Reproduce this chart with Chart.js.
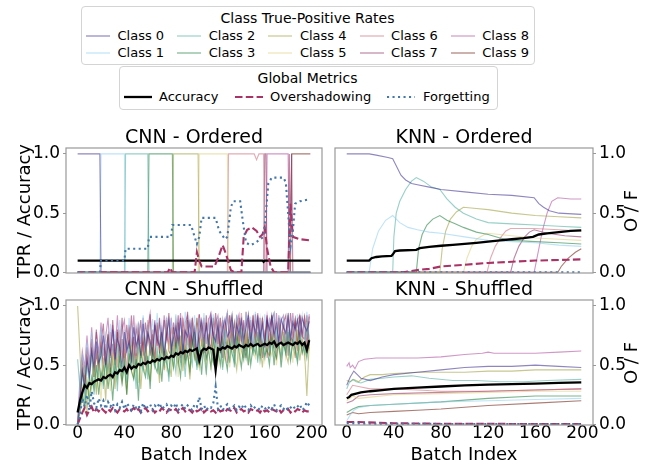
<!DOCTYPE html>
<html><head><meta charset="utf-8">
<script src="https://cdn.jsdelivr.net/npm/chart.js@4/dist/chart.umd.min.js"></script>
<style>
body{margin:0;width:654px;height:464px;overflow:hidden;background:#fff;font-family:"DejaVu Sans",sans-serif;position:relative}
canvas{position:absolute;left:0;top:0}
.t{position:absolute;white-space:nowrap;color:#000;line-height:1.17}
.c{transform:translate(-50%,-50%)}
.r{transform:translate(-50%,-50%) rotate(-90deg)}
.box{position:absolute;border:1px solid #d4d4d4;border-radius:4px;background:#fff}
svg{position:absolute;overflow:visible}
</style></head><body>
<div class="box" style="left:81px;top:6px;width:452px;height:57px"></div>
<div class="box" style="left:119px;top:66px;width:377px;height:42px"></div>
<div id="leg"></div>
<canvas id="c1" width="654" height="464"></canvas>
<canvas id="c2" width="654" height="464"></canvas>
<canvas id="c3" width="654" height="464"></canvas>
<canvas id="c4" width="654" height="464"></canvas>
<div id="labels"></div>
<script>
// ---------- labels / categories ----------
const classNames = ['Class 0','Class 1','Class 2','Class 3','Class 4','Class 5','Class 6','Class 7','Class 8','Class 9'];
const classColors = ['#332288','#88CCEE','#44AA99','#117733','#999933','#DDCC77','#CC6677','#882255','#AA4499','#661100'];
const metricNames = ['Accuracy','Overshadowing','Forgetting'];
const panelTitles = ['CNN - Ordered','KNN - Ordered','CNN - Shuffled','KNN - Shuffled'];
const xTicks = [0,40,80,120,160,200];
const yTicks = [0,0.5,1.0];

// ---------- CNN - Ordered (batch, value) ----------
const cnnOrdC0 = [[0,1],[19,1],[20,0],[199,0]];
const cnnOrdC1 = [[0,0],[19,0],[20,1],[40,1],[41,0],[199,0]];
const cnnOrdC2 = [[0,0],[40,0],[41,1],[60,1],[61,0],[199,0]];
const cnnOrdC3 = [[0,0],[60,0],[61,1],[81,1],[82,0],[199,0]];
const cnnOrdC4 = [[0,0],[81,0],[82,1],[103,1],[104,0],[199,0]];
const cnnOrdC5 = [[0,0],[103,0],[104,1],[128,1],[129,0],[199,0]];
const cnnOrdC6 = [[0,0],[128,0],[129,1],[151,1],[153,0.95],[155,1],[159,1],[160,0],[199,0]];
const cnnOrdC7 = [[0,0],[159,0],[160,1],[161,1],[162,0],[180,0],[181,1],[182,0.3],[183,1],[184,0],[199,0]];
const cnnOrdC8 = [[0,0],[161,0],[162,1],[180,1],[181,0],[199,0]];
const cnnOrdC9 = [[0,0],[182,0],[183,1],[199,1]];
const cnnOrdAcc = [[0,0.1],[158,0.1],[159,0.09],[160,0.1],[199,0.1]];
const cnnOrdOvs = [[0,0],[77,0],[79,0.04],[81,0],[100,0],[102,0.17],[104,0.1],[106,0.05],[117,0.05],[120,0.12],[124,0.23],[127,0.15],[131,0.02],[134,0],[140,0],[142,0.3],[145,0.36],[149,0.38],[153,0.35],[156,0.3],[158,0.32],[160,0.38],[162,0.2],[165,0.05],[168,0],[180,0],[182,0.58],[184,0.3],[190,0.28],[199,0.27]];
const cnnOrdFgt = [[0,0],[19,0],[20,0.1],[40,0.1],[41,0.2],[60,0.2],[61,0.3],[80,0.3],[81,0.4],[97,0.4],[100,0.3],[102,0.24],[104,0.3],[106,0.46],[118,0.46],[121,0.35],[126,0.28],[128,0.3],[131,0.55],[133,0.6],[139,0.6],[141,0.45],[144,0.25],[148,0.23],[152,0.25],[156,0.28],[159,0.3],[161,0.5],[163,0.75],[166,0.8],[176,0.8],[178,0.76],[180,0.5],[182,0.22],[184,0.35],[186,0.58],[190,0.6],[199,0.62]];

// ---------- KNN - Ordered ----------
const knnOrdC0 = [[0,1],[19,1],[25,0.99],[35,0.97],[39,0.96],[42,0.9],[46,0.82],[50,0.78],[55,0.75],[60,0.74],[70,0.72],[80,0.7],[100,0.68],[120,0.66],[140,0.65],[159,0.63],[163,0.58],[167,0.55],[172,0.52],[180,0.5],[199,0.49]];
const knnOrdC1 = [[0,0],[19,0],[22,0.2],[27,0.35],[33,0.44],[39,0.48],[45,0.42],[52,0.38],[60,0.36],[70,0.34],[80,0.33],[100,0.3],[120,0.27],[140,0.26],[160,0.25],[180,0.23],[199,0.22]];
const knnOrdC2 = [[0,0],[39,0],[40,0.3],[42,0.5],[45,0.6],[50,0.7],[55,0.77],[59,0.8],[65,0.77],[72,0.72],[79,0.7],[85,0.62],[92,0.55],[99,0.5],[110,0.45],[120,0.42],[140,0.41],[160,0.4],[180,0.39],[199,0.38]];
const knnOrdC3 = [[0,0],[59,0],[61,0.2],[64,0.32],[68,0.4],[73,0.45],[79,0.48],[85,0.44],[92,0.41],[99,0.38],[110,0.34],[120,0.32],[130,0.29],[140,0.27],[160,0.26],[180,0.25],[199,0.24]];
const knnOrdC4 = [[0,0],[79,0],[81,0.2],[84,0.35],[88,0.45],[93,0.51],[99,0.55],[110,0.54],[120,0.53],[140,0.5],[160,0.48],[180,0.47],[199,0.46]];
const knnOrdC5 = [[0,0],[99,0],[102,0.12],[106,0.22],[110,0.28],[115,0.31],[119,0.33],[130,0.32],[140,0.31],[160,0.29],[180,0.28],[199,0.27]];
const knnOrdC6 = [[0,0],[119,0],[122,0.12],[126,0.22],[131,0.3],[135,0.35],[139,0.37],[159,0.37],[180,0.36],[199,0.35]];
const knnOrdC7 = [[0,0],[139,0],[142,0.12],[146,0.22],[151,0.3],[155,0.34],[159,0.36],[170,0.33],[185,0.31],[199,0.3]];
const knnOrdC8 = [[0,0],[159,0],[162,0.15],[166,0.35],[170,0.5],[174,0.6],[179,0.63],[190,0.62],[199,0.62]];
const knnOrdC9 = [[0,0],[179,0],[182,0.05],[188,0.12],[194,0.17],[199,0.2]];
const knnOrdAcc = [[0,0.1],[19,0.1],[21,0.12],[25,0.13],[30,0.135],[38,0.14],[39,0.15],[41,0.18],[45,0.185],[59,0.19],[62,0.205],[70,0.215],[80,0.225],[90,0.232],[100,0.24],[110,0.25],[120,0.26],[130,0.27],[140,0.28],[150,0.29],[158,0.3],[163,0.32],[170,0.33],[180,0.34],[190,0.35],[199,0.355]];
const knnOrdOvs = [[0,0],[40,0],[50,0.005],[60,0.02],[70,0.03],[80,0.05],[100,0.065],[120,0.08],[140,0.09],[160,0.1],[180,0.105],[199,0.11]];
const knnOrdFgt = [[0,0],[199,0]];

// ---------- CNN - Shuffled (every 2nd batch, values in %) ----------
const cnnShufBatches = Array.from({length:100},(_, i)=>i*2);
const cnnShufC0 = [0,20,45,30,55,40,62,48,70,52,58,75,50,68,60,80,55,72,65,48, 78,62,70,55,82,66,74,58,85,63,77,70,60,84,72,66,80,58,76,88, 64,73,82,69,90,61,79,74,86,68,81,59,77,88,72,83,66,91,75,70, 85,63,80,89,74,78,92,67,84,76,88,71,82,93,69,86,78,90,73,84, 65,88,80,92,75,85,70,89,82,77,91,72,86,80,88,74,90,83,79,87];
const cnnShufC1 = [0,35,60,42,70,45,78,50,72,54,82,58,75,52,85,60,79,56,88,62, 80,58,90,66,84,60,87,69,92,62,83,71,89,64,94,70,86,62,91,74, 88,66,93,72,86,64,95,70,89,74,92,66,90,72,94,68,87,75,93,66, 91,73,88,66,95,74,90,68,93,76,89,70,94,72,91,67,95,74,90,70, 93,71,89,76,95,68,92,74,90,70,94,72,91,68,93,76,92,70,95,74];
const cnnShufC2 = [55,30,45,20,50,35,60,25,48,40,65,30,55,45,62,38,58,28,66,42, 55,35,68,48,60,30,70,52,45,64,38,72,55,48,66,42,74,50,60,36, 70,58,44,75,52,66,40,72,60,50,78,46,68,56,74,42,70,62,52,76, 58,68,46,80,62,54,74,48,70,64,82,56,66,50,78,60,72,52,80,64, 56,76,62,70,50,82,66,58,74,60,80,54,72,64,56,78,68,60,82,66];
const cnnShufC3 = [0,10,25,15,35,20,40,30,50,25,45,35,55,30,48,20,52,40,58,35, 50,25,60,45,38,55,20,62,48,40,58,30,65,50,44,60,36,66,52,42, 62,48,70,55,40,68,52,60,45,72,58,50,66,42,70,56,62,48,74,54, 64,50,72,58,46,70,60,52,76,62,48,68,56,74,50,66,60,78,54,70, 58,64,50,76,62,56,72,48,68,60,78,54,70,64,52,74,60,68,56,72];
const cnnShufC4 = [100,60,20,50,10,40,30,55,25,60,35,50,20,65,40,55,30,68,45,35, 60,25,55,70,40,50,65,30,58,72,45,38,68,52,60,35,70,48,62,55, 40,72,58,50,75,45,66,60,38,78,55,62,48,70,58,44,76,60,52,68, 56,74,48,64,70,52,78,58,46,72,62,54,80,50,68,60,74,56,66,48, 72,62,58,76,50,70,64,56,78,60,52,74,66,58,80,54,70,62,24,68];
const cnnShufC5 = [0,15,30,10,40,25,35,50,30,45,20,55,38,48,28,60,42,35,58,40, 52,30,62,45,40,58,35,66,50,44,60,38,68,48,56,42,64,52,46,70, 55,48,66,40,72,58,50,62,44,70,56,64,48,74,60,52,68,46,72,58, 50,70,62,54,76,48,66,60,72,52,64,58,78,50,70,62,56,74,60,66, 54,72,64,58,76,50,68,62,74,56,66,70,52,78,60,64,72,56,70,62];
const cnnShufC6 = [0,25,50,35,60,45,70,40,65,48,75,50,68,42,78,55,72,48,80,56, 70,46,82,54,74,50,85,58,66,48,88,60,80,52,84,62,70,46,90,64, 82,58,86,66,52,90,68,84,55,88,70,50,92,66,86,54,90,72,58,88, 64,90,70,86,52,92,72,60,88,66,94,74,56,90,64,86,72,92,58,88, 74,56,90,72,88,54,92,70,86,60,94,72,88,56,90,74,62,92,76,64];
const cnnShufC7 = [0,30,55,40,65,45,72,50,80,52,70,85,48,76,58,88,54,80,62,90, 56,84,64,92,50,82,68,88,58,86,70,93,52,84,66,90,60,88,72,94, 60,86,70,92,56,88,74,95,58,90,72,54,93,76,60,92,66,88,74,94, 68,90,56,82,94,66,88,60,92,70,90,56,95,68,88,62,93,70,90,56, 72,92,58,88,94,64,90,70,86,92,58,94,74,88,62,92,76,90,60,91];
const cnnShufC8 = [0,40,62,48,75,50,82,54,78,60,86,58,74,90,56,84,62,92,58,80, 88,60,84,66,92,58,86,68,90,64,82,94,62,88,70,86,66,92,74,68, 90,66,88,72,94,62,86,92,70,88,74,60,93,72,90,68,88,94,70,86, 92,72,88,64,94,74,90,66,86,93,70,88,62,92,76,90,68,94,74,88, 70,92,76,90,64,94,68,88,92,72,90,66,94,70,88,92,74,90,66,93];
const cnnShufC9 = [0,20,45,35,55,42,65,40,60,45,70,48,62,75,44,68,50,78,52,72, 48,70,80,52,74,50,82,56,72,50,84,58,76,54,86,60,78,52,88,62, 58,82,64,86,60,80,54,88,66,82,62,90,68,84,60,86,70,64,90,68, 84,60,88,70,66,92,72,86,64,90,70,84,62,88,68,92,72,86,66,90, 70,88,64,92,74,68,90,72,86,66,92,74,70,88,68,90,74,72,92,70];
const cnnShufAcc = [10,20,27,33,31,35,34,36,37,38,37,40,39,41,42,40,44,43,46,45, 48,44,50,47,49,48,51,50,52,51,53,52,54,53,55,54,56,55,57,56, 58,57,60,59,61,60,62,61,63,62,63,64,54,62,64,63,65,64,63,46, 64,63,65,64,66,65,64,66,65,67,66,65,67,66,68,66,67,68,66,67, 68,67,69,68,70,66,68,69,67,68,69,68,67,69,68,70,67,69,63,71];
const cnnShufOvs = [0,5,10,14,8,12,15,10,13,11,14,12,10,13,11,14,12,10,13,12, 11,13,10,12,14,11,13,10,12,14,11,12,13,10,12,11,14,12,10,13, 12,11,13,10,12,14,11,13,12,10,13,11,12,14,10,12,13,11,12,10, 13,11,12,10,13,12,11,14,10,12,13,11,12,10,13,12,11,12,10,13, 11,12,10,13,12,11,13,10,12,11,13,10,12,11,13,12,10,12,11,11];
const cnnShufFgt = [0,8,22,15,25,12,28,18,14,22,16,20,13,19,15,18,12,17,14,19, 13,18,15,12,17,14,16,11,18,13,15,17,12,16,14,18,13,15,17,12, 16,14,18,12,15,17,13,16,14,12,17,15,23,13,16,12,15,14,18,32, 13,16,12,15,17,13,14,16,12,15,13,17,14,12,16,13,15,14,12,16, 14,12,15,13,17,12,14,16,13,15,12,14,16,13,15,17,12,14,19,16];

// ---------- KNN - Shuffled ----------
const knnShufC0 = [[0,0.33],[3,0.4],[6,0.45],[9,0.42],[12,0.39],[16,0.38],[20,0.37],[30,0.4],[40,0.42],[60,0.44],[80,0.46],[100,0.48],[120,0.49],[140,0.49],[160,0.5],[180,0.49],[199,0.48]];
const knnShufC1 = [[0,0.03],[3,0.08],[6,0.12],[10,0.14],[20,0.16],[40,0.17],[80,0.19],[120,0.2],[160,0.21],[199,0.22]];
const knnShufC2 = [[0,0.3],[2,0.35],[5,0.38],[8,0.36],[12,0.35],[20,0.38],[30,0.39],[40,0.4],[55,0.41],[70,0.39],[90,0.37],[110,0.37],[130,0.36],[150,0.36],[170,0.37],[199,0.38]];
const knnShufC3 = [[0,0.1],[5,0.13],[10,0.15],[20,0.16],[40,0.17],[80,0.19],[120,0.22],[160,0.24],[199,0.24]];
const knnShufC4 = [[0,0.37],[3,0.36],[6,0.38],[10,0.36],[15,0.4],[20,0.42],[30,0.42],[40,0.43],[60,0.44],[80,0.44],[100,0.44],[120,0.45],[140,0.45],[160,0.46],[199,0.46]];
const knnShufC5 = [[0,0.2],[5,0.24],[10,0.22],[20,0.23],[40,0.25],[80,0.26],[120,0.27],[160,0.28],[199,0.28]];
const knnShufC6 = [[0,0.25],[5,0.33],[10,0.32],[20,0.3],[40,0.3],[60,0.29],[80,0.28],[100,0.28],[120,0.28],[160,0.29],[199,0.3]];
const knnShufC7 = [[0,0.18],[5,0.2],[10,0.24],[20,0.25],[40,0.26],[80,0.27],[120,0.28],[160,0.29],[199,0.3]];
const knnShufC8 = [[0,0.49],[2,0.52],[3,0.48],[5,0.5],[7,0.47],[10,0.53],[15,0.55],[25,0.56],[40,0.56],[60,0.56],[80,0.57],[100,0.59],[115,0.6],[120,0.61],[125,0.6],[160,0.6],[180,0.61],[199,0.62]];
const knnShufC9 = [[0,0.08],[5,0.1],[10,0.09],[20,0.1],[40,0.11],[60,0.12],[80,0.13],[120,0.16],[160,0.18],[199,0.2]];
const knnShufAcc = [[0,0.22],[2,0.23],[4,0.25],[8,0.26],[12,0.27],[20,0.28],[30,0.29],[40,0.3],[60,0.31],[80,0.32],[100,0.33],[120,0.335],[140,0.34],[160,0.345],[180,0.35],[199,0.355]];
const knnShufOvs = [[0,0.02],[10,0.02],[40,0.01],[80,0.005],[199,0.003]];
const knnShufFgt = [[0,0.01],[20,0.005],[199,0.002]];

// ---------- styling ----------
const OVS_COLOR = '#AA3366';
const FGT_COLOR = '#4477AA';
const CLASS_ALPHA = 0.55;
const X_MIN = -9.95, X_MAX = 208.95, Y_MIN = -0.005, Y_MAX = 1.05;
Chart.defaults.font.family = "'DejaVu Sans', sans-serif";
Chart.defaults.color = '#000';

function rgba(hex,a){const n=parseInt(hex.slice(1),16);return `rgba(${n>>16},${(n>>8)&255},${n&255},${a})`;}
const pairs = p => p.map(([x,y])=>({x,y}));
const pct = arr => arr.map((v,i)=>({x:cnnShufBatches[i], y:v/100}));

const framePlugin = {id:'frame', afterDraw(c){const a=c.chartArea, ctx=c.ctx; ctx.save(); ctx.strokeStyle='#999'; ctx.lineWidth=1.2; ctx.strokeRect(a.left, a.top, a.right-a.left, a.bottom-a.top); ctx.restore();}};

function panel(id, f, side, bottomRow, classes, acc, ovs, fgt){
  const YW = 40, XH = bottomRow ? 30 : 0;
  const datasets = classes.map((d,i)=>({label:classNames[i], data:d, borderColor:rgba(classColors[i],CLASS_ALPHA), borderWidth:1.1, order:10}));
  datasets.push({label:metricNames[0], data:acc, borderColor:'#000', borderWidth:2.3, order:2});
  datasets.push({label:metricNames[1], data:ovs, borderColor:OVS_COLOR, borderWidth:2.1, borderDash:[7.5,3.3], order:1});
  datasets.push({label:metricNames[2], data:fgt, borderColor:FGT_COLOR, borderWidth:2.1, borderDash:[2.1,3.4], order:0});
  new Chart(document.getElementById(id), {
    type:'line',
    data:{datasets},
    options:{
      responsive:false, animation:false, parsing:true,
      layout:{padding:{left:f.l-(side==='left'?YW:0), right:654-f.r-(side==='right'?YW:0), top:f.t, bottom:464-f.b-XH}},
      plugins:{legend:{display:false}, tooltip:{enabled:false}},
      elements:{point:{radius:0}, line:{tension:0, borderCapStyle:'butt', fill:false}},
      scales:{
        x:{type:'linear', min:X_MIN, max:X_MAX,
           afterBuildTicks:s=>{s.ticks = xTicks.map(v=>({value:v}));},
           afterFit:s=>{s.height = XH;},
           grid:{display:false, drawTicks:false, tickLength:0}, border:{display:false},
           ticks:{display:bottomRow, font:{size:17}, padding:-2, maxRotation:0, autoSkip:false}},
        y:{type:'linear', position:side, min:Y_MIN, max:Y_MAX,
           afterBuildTicks:s=>{s.ticks = yTicks.map(v=>({value:v}));},
           afterFit:s=>{s.width = YW;},
           grid:{drawOnChartArea:false, drawTicks:true, tickLength:3, color:'#999'}, border:{display:false},
           ticks:{font:{size:17}, padding:3, callback:v=>v.toFixed(1)}}
      }
    },
    plugins:[framePlugin]
  });
}

const frames = [{l:66,t:148,r:322,b:273},{l:335,t:148,r:593,b:273},{l:66,t:300,r:322,b:425},{l:335,t:300,r:593,b:425}];
panel('c1', frames[0], 'left', false, [cnnOrdC0,cnnOrdC1,cnnOrdC2,cnnOrdC3,cnnOrdC4,cnnOrdC5,cnnOrdC6,cnnOrdC7,cnnOrdC8,cnnOrdC9].map(pairs), pairs(cnnOrdAcc), pairs(cnnOrdOvs), pairs(cnnOrdFgt));
panel('c2', frames[1], 'right', false, [knnOrdC0,knnOrdC1,knnOrdC2,knnOrdC3,knnOrdC4,knnOrdC5,knnOrdC6,knnOrdC7,knnOrdC8,knnOrdC9].map(pairs), pairs(knnOrdAcc), pairs(knnOrdOvs), pairs(knnOrdFgt));
panel('c3', frames[2], 'left', true, [cnnShufC0,cnnShufC1,cnnShufC2,cnnShufC3,cnnShufC4,cnnShufC5,cnnShufC6,cnnShufC7,cnnShufC8,cnnShufC9].map(pct), pct(cnnShufAcc), pct(cnnShufOvs), pct(cnnShufFgt));
panel('c4', frames[3], 'right', true, [knnShufC0,knnShufC1,knnShufC2,knnShufC3,knnShufC4,knnShufC5,knnShufC6,knnShufC7,knnShufC8,knnShufC9].map(pairs), pairs(knnShufAcc), pairs(knnShufOvs), pairs(knnShufFgt));

// ---------- text labels ----------
const L = document.getElementById('labels');
function txt(s, x, y, size, cls){const d=document.createElement('div'); d.className='t '+cls; d.style.left=x+'px'; d.style.top=y+'px'; d.style.fontSize=size+'px'; d.textContent=s; L.appendChild(d);}
frames.forEach((f,i)=>{
  const cx=(f.l+f.r)/2, cy=(f.t+f.b)/2;
  txt(panelTitles[i], cx, f.t-12, 19, 'c');
  if(i%2===0) txt('TPR / Accuracy', 24, cy, 18, 'r'); else txt('O / F', 631, cy, 18, 'r');
  if(i>=2) txt('Batch Index', cx, 454, 18, 'c');
});

// ---------- legends ----------
const G = document.getElementById('leg');
function seg(x1,x2,y,color,w,dash){
  const s=document.createElementNS('http://www.w3.org/2000/svg','svg');
  s.setAttribute('width',x2-x1); s.setAttribute('height',6);
  s.style.left=x1+'px'; s.style.top=(y-3)+'px';
  const l=document.createElementNS('http://www.w3.org/2000/svg','line');
  l.setAttribute('x1',0); l.setAttribute('x2',x2-x1); l.setAttribute('y1',3); l.setAttribute('y2',3);
  l.setAttribute('stroke',color); l.setAttribute('stroke-width',w);
  if(dash) l.setAttribute('stroke-dasharray',dash);
  s.appendChild(l); G.appendChild(s);
}
function ltxt(s,x,y,size,center){const d=document.createElement('div'); d.className='t'; d.style.left=x+'px'; d.style.top=y+'px'; d.style.fontSize=size+'px'; d.style.transform=center?'translate(-50%,-50%)':'translate(0,-50%)'; d.textContent=s; G.appendChild(d);}
ltxt('Class True-Positive Rates', 307.5, 17.5, 14, true);
classNames.forEach((n,i)=>{
  const col=Math.floor(i/2), row=i%2;
  const x=86+91.2*col, y=row?52.5:35.5;
  seg(x, x+24, y, rgba(classColors[i],CLASS_ALPHA), 1.2);
  ltxt(n, x+31.5, y, 13, false);
});
ltxt('Global Metrics', 307.5, 77.5, 14, true);
seg(124,152,97,'#000',2.3);
ltxt(metricNames[0],159,97,13,false);
seg(235,263,97,OVS_COLOR,2.1,'7.5 3.3');
ltxt(metricNames[1],270,97,13,false);
seg(387,415,97,FGT_COLOR,2.1,'2.1 3.4');
ltxt(metricNames[2],423,97,13,false);
</script>
</body></html>
